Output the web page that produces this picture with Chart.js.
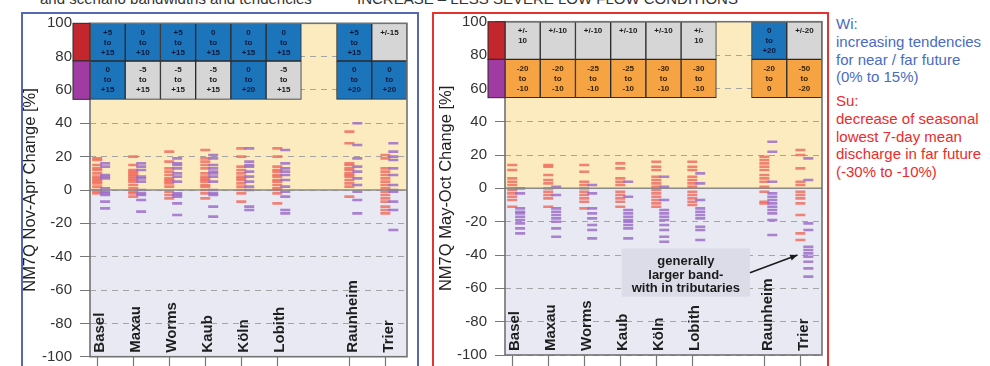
<!DOCTYPE html>
<html>
<head>
<meta charset="utf-8">
<script src="https://cdn.jsdelivr.net/npm/chart.js@4.4.1/dist/chart.umd.min.js"></script>
<style>
  html, body { margin: 0; padding: 0; background: #fff; }
  body { width: 990px; height: 366px; position: relative; overflow: hidden; font-family: 'Liberation Sans', Arial, sans-serif; }
  .frame { position: absolute; top: 12px; height: 380px; box-sizing: border-box; border: 2px solid; }
  #frameWi { left: 21px; width: 398px; border-color: #5567b6; }
  #frameSu { left: 432px; width: 397px; border-color: #e5332f; }
  canvas { position: absolute; top: 0; }
  #cWi { left: 0; }
  #cSu { left: 425px; }
  .head { position: absolute; top: -9px; font-size: 15px; line-height: 16px; color: #333; white-space: nowrap; }
  .note { position: absolute; left: 836px; font-size: 15px; line-height: 17.8px; white-space: nowrap; }
  #noteWi { top: 15px; color: #4a6bc2; }
  #noteSu { top: 92px; color: #ee2a2a; }
</style>
</head>
<body>
<div class="head" style="left:40px">and scenario bandwidths and tendencies</div>
<div class="head" style="left:357px">INCREASE – LESS SEVERE LOW FLOW CONDITIONS</div>
<div class="frame" id="frameWi"></div>
<div class="frame" id="frameSu"></div>
<canvas id="cWi" width="425" height="366"></canvas>
<canvas id="cSu" width="410" height="366"></canvas>
<div class="note" id="noteWi">Wi:<br>increasing tendencies<br>for near / far future<br>(0% to 15%)</div>
<div class="note" id="noteSu">Su:<br>decrease of seasonal<br>lowest 7-day mean<br>discharge in far future<br>(-30% to -10%)</div>
<script>
// gauges along the x axis ('' = empty column between Lobith and Raunheim)
var columns = ['Basel', 'Maxau', 'Worms', 'Kaub', 'Köln', 'Lobith', '', 'Raunheim', 'Trier'];

// table rows: text and tendency (up / flat / down) per column
var wiNearText = ['+5\nto\n+15', '0\nto\n+10', '+5\nto\n+15', '0\nto\n+15', '0\nto\n+15', '0\nto\n+15', '', '+5\nto\n+15', '+/-15'];
var wiNearTrend = ['up', 'up', 'up', 'up', 'up', 'up', '', 'up', 'flat'];
var wiFarText = ['0\nto\n+15', '-5\nto\n+15', '-5\nto\n+15', '-5\nto\n+15', '0\nto\n+20', '-5\nto\n+15', '', '0\nto\n+20', '0\nto\n+20'];
var wiFarTrend = ['up', 'flat', 'flat', 'flat', 'up', 'flat', '', 'up', 'up'];
var suNearText = ['+/-\n10', '+/-10', '+/-10', '+/-10', '+/-10', '+/-\n10', '', '0\nto\n+20', '+/-20'];
var suNearTrend = ['flat', 'flat', 'flat', 'flat', 'flat', 'flat', '', 'up', 'flat'];
var suFarText = ['-20\nto\n-10', '-20\nto\n-10', '-25\nto\n-10', '-25\nto\n-10', '-30\nto\n-10', '-30\nto\n-10', '', '-20\nto\n0', '-50\nto\n-20'];
var suFarTrend = ['down', 'down', 'down', 'down', 'down', 'down', '', 'down', 'down'];

// NM7Q change [%] of the single scenario runs, near future (red) and far future (purple)
var wiNear = [
	[19, 18, 15, 13, 12, 10, 8, 7, 6, 5, 4, 2, 0, -1, -2],
	[20, 15, 12, 11, 10, 9, 8, 7, 6, 5, 3, 1, -1, -2, -4],
	[23, 17, 13, 11, 9, 7, 6, 5, 4, 2, -1, -3, -5],
	[24, 19, 17, 15, 13, 10, 8, 7, 6, 5, 3, 2, 0, -2, -5],
	[25, 20, 14, 12, 10, 8, 7, 6, 4, 2, 0, -2, -7],
	[25, 20, 14, 12, 11, 9, 8, 6, 5, 3, 1, 0, -2, -8],
	[],
	[35, 28, 16, 15, 13, 12, 10, 9, 8, 6, 4, 2, -4],
	[21, 19, 13, 11, 9, 7, 5, 3, 1, -1, -3, -5, -7, -10, -12, -14]
];
var wiFar = [
	[16, 14, 9, 8, 7, 1, -1, -2, -3, -7, -11],
	[16, 14, 12, 8, 7, 5, 0, -2, -3, -6, -13],
	[19, 16, 15, 13, 10, 8, 5, -2, -3, -4, -8, -15],
	[21, 19, 15, 13, 11, 10, 8, 5, 0, -2, -3, -10, -16],
	[25, 17, 15, 14, 11, 8, 5, 2, 0, -10, -12],
	[24, 16, 13, 11, 9, 6, 2, -1, -4, -12, -14],
	[],
	[40, 27, 19, 14, 11, 7, 3, -1, -6, -14],
	[28, 23, 20, 18, 13, 9, 3, 0, -1, -7, -12, -24]
];
var suNear = [
	[14, 11, 6, 4, 2, 0, -1, -3, -5, -7, -11],
	[14, 13, 8, 5, 3, 0, -2, -4, -6, -11],
	[14, 10, 4, 2, 0, -2, -4, -6, -8, -12],
	[15, 12, 6, 4, 2, -2, -4, -6, -8, -11],
	[16, 13, 11, 7, 5, 3, 1, -1, -3, -5, -7, -9, -11],
	[16, 13, 11, 7, 5, 3, 1, -2, -4, -6, -8, -10],
	[],
	[19, 17, 15, 13, 11, 8, 6, 4, 1, -2, -8, -9],
	[23, 20, 12, 4, 2, -2, -4, -6, -9, -16, -27, -31]
];
var suFar = [
	[0, -3, -12, -14, -15, -17, -19, -21, -24, -27],
	[1, -4, -12, -14, -16, -18, -20, -24, -29],
	[2, -3, -12, -15, -18, -22, -25, -30],
	[4, -5, -13, -15, -17, -19, -20, -22, -24, -30],
	[7, 1, -7, -13, -15, -17, -19, -22, -25, -29, -32],
	[9, 3, -7, -12, -14, -16, -18, -23, -25, -31],
	[],
	[28, 22, 4, -3, -5, -7, -9, -11, -13, -15, -19, -28],
	[18, 5, -21, -25, -35, -37, -39, -41, -44, -48, -53]
];

var FONT = "'Liberation Sans', Arial, sans-serif";
var trendColor = { up: '#1c74bb', flat: '#d6d6d6', down: '#f6a443' };
var trendText = { up: '#0c1a3c', flat: '#1a1a1a', down: '#3a2200' };
var ROW_NEAR = [77.4, 100];
var ROW_FAR = [54.4, 77.4];
var FAR_SHIFT = 0.22;

Chart.defaults.font.family = FONT;

function tableRow(texts, trends, range) {
	var data = [], colors = [], cells = [];
	columns.forEach(function(c, i) {
		if (!trends[i]) return;
		data.push({ x: i + 0.5, y: range });
		colors.push(trendColor[trends[i]]);
		cells.push({ text: texts[i], color: trendText[trends[i]] });
	});
	return {
		type: 'bar', xAxisID: 'x', yAxisID: 'y',
		data: data, backgroundColor: colors,
		borderColor: '#2b2b2b', borderWidth: 1, borderSkipped: false,
		grouped: false, barPercentage: 1, categoryPercentage: 1,
		cells: cells
	};
}

function dashes(values, shift, color) {
	var pts = [];
	values.forEach(function(vals, i) {
		vals.forEach(function(v) { pts.push({ x: i + shift, y: v }); });
	});
	return {
		type: 'scatter', xAxisID: 'xs', yAxisID: 'y',
		data: pts, pointStyle: 'line', pointRadius: 5, pointHoverRadius: 5,
		borderColor: color, pointBorderColor: color, borderWidth: 2.6, pointBorderWidth: 2.6
	};
}

var panelDecor = {
	id: 'panelDecor',
	beforeDraw: function(chart) {
		var ctx = chart.ctx, a = chart.chartArea, y0 = chart.scales.y.getPixelForValue(0);
		ctx.save();
		ctx.fillStyle = '#fcebbf';
		ctx.fillRect(a.left, a.top, a.width, y0 - a.top);
		ctx.fillStyle = '#e9e9f3';
		ctx.fillRect(a.left, y0, a.width, a.bottom - y0);
		ctx.restore();
	},
	afterDatasetsDraw: function(chart, args, opts) {
		var ctx = chart.ctx, a = chart.chartArea, ys = chart.scales.y, xs = chart.scales.xs;
		ctx.save();
		// zero line
		var y0 = ys.getPixelForValue(0);
		ctx.strokeStyle = '#8a8a8a';
		ctx.lineWidth = 1.5;
		ctx.beginPath(); ctx.moveTo(a.left, y0); ctx.lineTo(a.right, y0); ctx.stroke();

		// table cell texts
		ctx.font = 'bold 8px ' + FONT;
		ctx.textAlign = 'center';
		ctx.textBaseline = 'middle';
		chart.data.datasets.forEach(function(ds, di) {
			if (!ds.cells) return;
			chart.getDatasetMeta(di).data.forEach(function(bar, j) {
				var p = bar.getProps(['x', 'y', 'base'], true);
				var top = Math.min(p.y, p.base);
				ctx.fillStyle = ds.cells[j].color;
				ds.cells[j].text.split('\n').forEach(function(ln, k) {
					ctx.fillText(ln, p.x, top + 9 + 10 * k);
				});
			});
		});

		// gauge names
		ctx.font = 'bold 15px ' + FONT;
		ctx.fillStyle = '#1e1e1e';
		ctx.textAlign = 'left';
		columns.forEach(function(c, i) {
			if (!c) return;
			ctx.save();
			ctx.translate(xs.getPixelForValue(i) + 3, a.bottom - 4);
			ctx.rotate(-Math.PI / 2);
			ctx.fillText(c, 0, 0);
			ctx.restore();
		});

		// annotation box with arrow
		if (opts.note) {
			var bx1 = xs.getPixelForValue(3.04), bx2 = xs.getPixelForValue(6.6);
			var by1 = ys.getPixelForValue(-36), by2 = ys.getPixelForValue(-65);
			ctx.fillStyle = '#dcdce8';
			ctx.fillRect(bx1, by1, bx2 - bx1, by2 - by1);
			ctx.fillStyle = '#1a1a1a';
			ctx.font = 'bold 13px ' + FONT;
			ctx.textAlign = 'center';
			var cx = (bx1 + bx2) / 2;
			opts.note.forEach(function(ln, k) {
				ctx.fillText(ln, cx, by1 + 13.5 + 13.5 * k);
			});
			var ax1 = xs.getPixelForValue(6.6), ay1 = ys.getPixelForValue(-50.6);
			var ax2 = xs.getPixelForValue(7.92), ay2 = ys.getPixelForValue(-40);
			ctx.strokeStyle = '#1a1a1a';
			ctx.lineWidth = 1.5;
			ctx.beginPath(); ctx.moveTo(ax1, ay1); ctx.lineTo(ax2, ay2); ctx.stroke();
			var ang = Math.atan2(ay2 - ay1, ax2 - ax1);
			ctx.beginPath();
			ctx.moveTo(ax2, ay2);
			ctx.lineTo(ax2 - 8 * Math.cos(ang - 0.4), ay2 - 8 * Math.sin(ang - 0.4));
			ctx.lineTo(ax2 - 8 * Math.cos(ang + 0.4), ay2 - 8 * Math.sin(ang + 0.4));
			ctx.closePath();
			ctx.fillStyle = '#1a1a1a';
			ctx.fill();
		}
		ctx.restore();
	},
	afterDraw: function(chart) {
		var ctx = chart.ctx, a = chart.chartArea, ys = chart.scales.y;
		ctx.save();
		ctx.strokeStyle = '#727272';
		ctx.lineWidth = 1.6;
		ctx.strokeRect(a.left, a.top, a.width, a.height);
		// row markers: near future (red), far future (purple)
		[[ROW_NEAR, '#c4262e'], [ROW_FAR, '#a03ba3']].forEach(function(r) {
			var t = ys.getPixelForValue(r[0][1]), b = ys.getPixelForValue(r[0][0]);
			ctx.fillStyle = r[1];
			ctx.fillRect(a.left - 17, t, 17, b - t);
			ctx.strokeStyle = '#2b2b2b';
			ctx.lineWidth = 1;
			ctx.strokeRect(a.left - 17, t, 17, b - t);
		});
		ctx.restore();
	}
};

function makePanel(id, p) {
	return new Chart(document.getElementById(id), {
		type: 'scatter',
		data: {
			datasets: [
				tableRow(p.nearText, p.nearTrend, ROW_NEAR),
				tableRow(p.farText, p.farTrend, ROW_FAR),
				dashes(p.far, FAR_SHIFT, 'rgba(156,110,200,0.85)'),
				dashes(p.near, 0, 'rgba(240,112,98,0.85)')
			]
		},
		options: {
			responsive: false,
			devicePixelRatio: 1,
			animation: false,
			events: [],
			layout: { padding: { top: p.top, right: p.right, left: 0, bottom: 0 } },
			plugins: {
				legend: { display: false },
				tooltip: { enabled: false },
				panelDecor: { note: p.note }
			},
			scales: {
				x: { type: 'linear', display: false, min: 0, max: 9, offset: false },
				xs: {
					type: 'linear', position: 'bottom', min: -0.2, max: 8.6, offset: false,
					afterBuildTicks: function(s) {
						s.ticks = [];
						columns.forEach(function(c, i) { if (c) s.ticks.push({ value: i }); });
					},
					afterFit: function(s) { s.height = p.xHeight; s.paddingLeft = 0; s.paddingRight = 0; },
					ticks: { display: false },
					grid: { drawOnChartArea: false, drawTicks: true, tickLength: 14, tickColor: '#777', tickWidth: 1.2 },
					border: { display: false }
				},
				y: {
					min: -100, max: 100,
					afterFit: function(s) { s.width = p.yWidth; s.paddingTop = 0; s.paddingBottom = 0; },
					ticks: { stepSize: 20, color: '#333', padding: 8, font: { size: 15 } },
					grid: { color: '#a4a4a4', lineWidth: 1, tickLength: 10, tickColor: '#777', tickWidth: 1.2, tickBorderDash: [1, 0] },
					border: { display: false, dash: [6, 5] },
					title: { display: true, text: p.title, color: '#222', font: { size: 16.5 }, padding: { top: p.titlePad, bottom: 0 } }
				}
			}
		},
		plugins: [panelDecor]
	});
}

makePanel('cWi', {
	nearText: wiNearText, nearTrend: wiNearTrend, farText: wiFarText, farTrend: wiFarTrend,
	near: wiNear, far: wiFar,
	title: 'NM7Q Nov-Apr Change [%]',
	top: 23.3, right: 18, yWidth: 90, xHeight: 9.3, titlePad: 21
});
makePanel('cSu', {
	nearText: suNearText, nearTrend: suNearTrend, farText: suFarText, farTrend: suFarTrend,
	near: suNear, far: suFar,
	title: 'NM7Q May-Oct Change [%]',
	top: 21.7, right: 13, yWidth: 80, xHeight: 11, titlePad: 11.5,
	note: ['generally', 'larger band-', 'with in tributaries']
});
</script>
</body>
</html>
